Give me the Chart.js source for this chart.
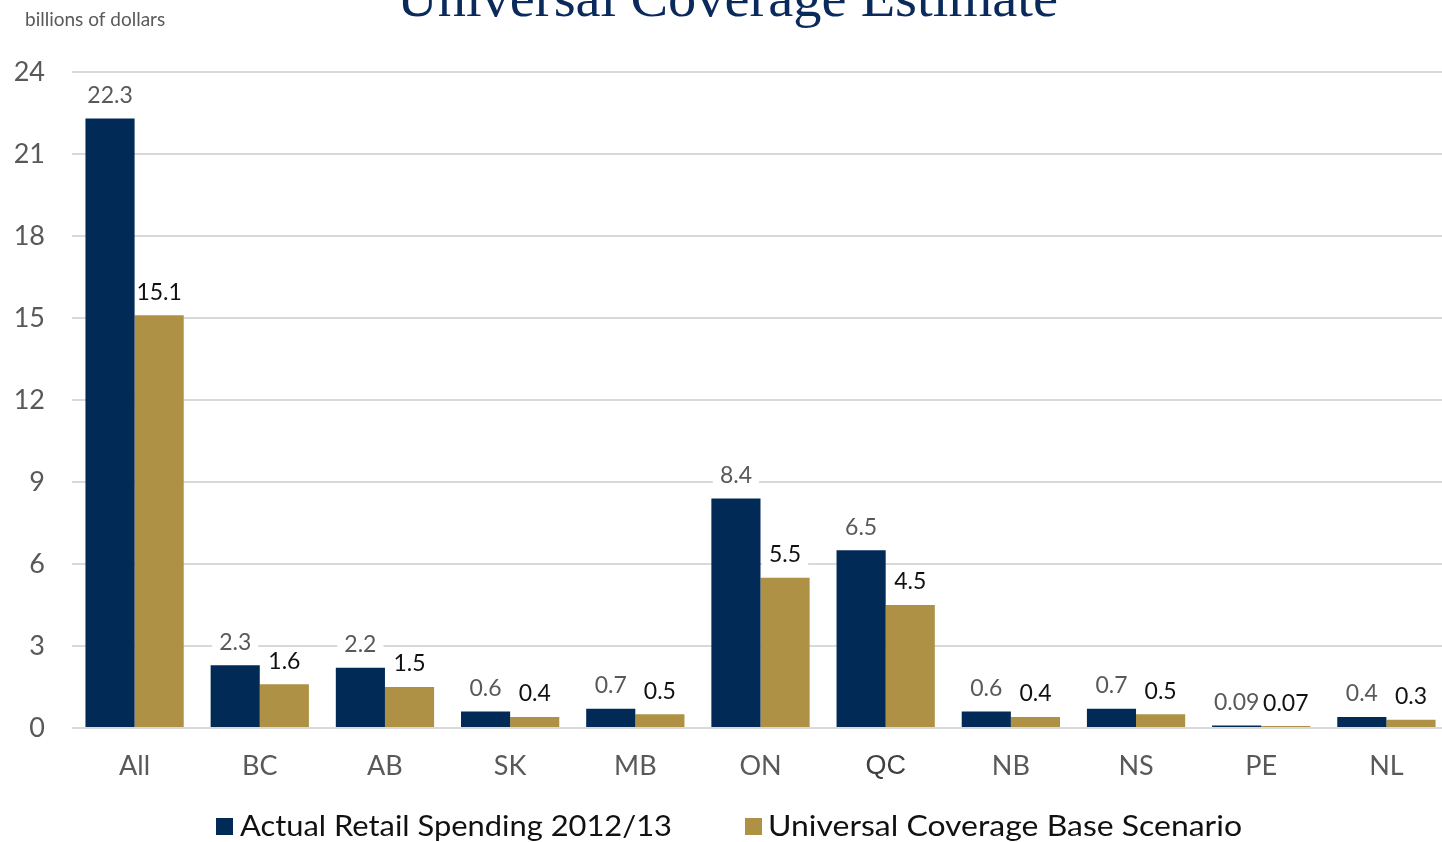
<!DOCTYPE html>
<html>
<head>
<meta charset="utf-8">
<title>Universal Coverage Estimate</title>
<script src="https://cdn.jsdelivr.net/npm/chart.js@4.4.0/dist/chart.umd.min.js"></script>
<style>
    html, body { margin: 0; padding: 0; background: #fff; overflow: hidden; }
    #chart { display: block; }
</style>
</head>
<body>
<canvas id="chart" width="1449" height="842"></canvas>
<script>
// Provincial drug spending vs universal coverage (billions of dollars)
const provinces = ['All', 'BC', 'AB', 'SK', 'MB', 'ON', 'QC', 'NB', 'NS', 'PE', 'NL'];
const actualSpending = [22.3, 2.3, 2.2, 0.6, 0.7, 8.4, 6.5, 0.6, 0.7, 0.09, 0.4];
const universalBase = [15.1, 1.6, 1.5, 0.4, 0.5, 5.5, 4.5, 0.4, 0.5, 0.07, 0.3];
const seriesNames = ['Actual Retail Spending 2012/13', 'Universal Coverage Base Scenario'];
const yMax = 24;
const yStep = 3;

const NAVY = '#022a56';
const GOLD = '#ae9144';
const GREY_TEXT = '#595959';
const FONT = 'Lato, "Open Sans", sans-serif';
const LABEL_FONT = '23px ' + FONT;

function labelItems(chart) {
    const items = [];
    chart.data.datasets.forEach((ds, di) => {
        const meta = chart.getDatasetMeta(di);
        meta.data.forEach((bar, i) => {
            items.push({ text: String(ds.data[i]), x: bar.x, y: bar.y - 23, color: di === 0 ? GREY_TEXT : '#111' });
        });
    });
    return items;
}

// value labels above each bar; the white patch goes in before the bars so it
// only hides the gridlines
const valueLabels = {
    id: 'valueLabels',
    beforeDatasetsDraw(chart) {
        const ctx = chart.ctx;
        ctx.save();
        ctx.font = LABEL_FONT;
        ctx.fillStyle = '#fff';
        labelItems(chart).forEach(it => {
            const w = ctx.measureText(it.text).width + 14;
            ctx.fillRect(it.x - w / 2, it.y - 12, w, 24);
        });
        ctx.restore();
    },
    afterDatasetsDraw(chart) {
        const ctx = chart.ctx;
        ctx.save();
        ctx.font = LABEL_FONT;
        ctx.textAlign = 'center';
        ctx.textBaseline = 'middle';
        labelItems(chart).forEach(it => {
            ctx.fillStyle = it.color;
            ctx.fillText(it.text, it.x, it.y);
        });
        ctx.restore();
    }
};

// title, unit note and legend
const decorations = {
    id: 'decorations',
    afterDraw(chart) {
        const ctx = chart.ctx;
        ctx.save();
        // title, partly above the top edge
        ctx.font = '54px "Liberation Serif", "DejaVu Serif", serif';
        ctx.fillStyle = '#0a2a5c';
        ctx.textBaseline = 'alphabetic';
        const title = 'Universal Coverage Estimate';
        const tw = ctx.measureText(title).width;
        ctx.save();
        ctx.translate(397, 16);
        ctx.scale(661 / tw, 1);
        ctx.fillText(title, 0, 0);
        ctx.restore();

        ctx.font = '19px ' + FONT;
        ctx.fillStyle = GREY_TEXT;
        ctx.textBaseline = 'middle';
        ctx.fillText('billions of dollars', 25, 20);

        // legend
        const entries = [
            { color: NAVY, box: 216, text: seriesNames[0], tx: 240, width: 432 },
            { color: GOLD, box: 745, text: seriesNames[1], tx: 768, width: 474 }
        ];
        ctx.font = '28px ' + FONT;
        entries.forEach(e => {
            ctx.fillStyle = e.color;
            ctx.fillRect(e.box, 818, 17, 17);
            ctx.fillStyle = '#111';
            const w = ctx.measureText(e.text).width;
            ctx.save();
            ctx.translate(e.tx, 827);
            ctx.scale(e.width / w, 1);
            ctx.fillText(e.text, 0, 0);
            ctx.restore();
        });
        ctx.restore();
    }
};

new Chart(document.getElementById('chart'), {
    type: 'bar',
    data: {
        labels: provinces,
        datasets: [
            { label: seriesNames[0], data: actualSpending, backgroundColor: NAVY },
            { label: seriesNames[1], data: universalBase, backgroundColor: GOLD }
        ]
    },
    options: {
        responsive: false,
        animation: false,
        layout: { padding: { top: 72, left: 0, right: 0, bottom: 0 } },
        datasets: { bar: { barPercentage: 1, categoryPercentage: 0.785 } },
        plugins: {
            legend: { display: false },
            tooltip: { enabled: false }
        },
        scales: {
            x: {
                grid: { display: false },
                border: { display: false },
                ticks: {
                    padding: 14,
                    color: ctx => ctx.index === 6 ? '#404040' : GREY_TEXT,
                    font: ctx => ctx.index === 6
                        ? { family: '"Liberation Sans", Arial, sans-serif', size: 27 }
                        : { family: FONT, size: 27 }
                },
                afterFit(scale) { scale.height = 114; }
            },
            y: {
                min: 0,
                max: yMax,
                ticks: {
                    stepSize: yStep,
                    padding: 27,
                    color: GREY_TEXT,
                    font: { family: FONT, size: 27 }
                },
                grid: { color: '#d9d9d9', lineWidth: 2, drawTicks: false },
                border: { display: false },
                afterFit(scale) { scale.width = 72; }
            }
        }
    },
    plugins: [valueLabels, decorations]
});
</script>
</body>
</html>
